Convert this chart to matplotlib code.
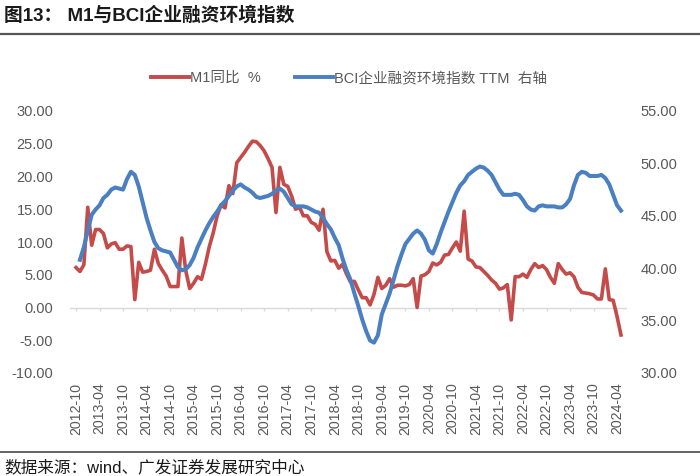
import matplotlib
matplotlib.use("Agg")
import matplotlib.pyplot as plt
from matplotlib.lines import Line2D
import numpy as np
import pandas as pd

plt.rcParams.update({"font.family": ["Liberation Sans", "Noto Sans CJK SC"],
                     "axes.unicode_minus": False})

# ── 数据 ──────────────────────────────────────────────────────
months = pd.period_range("2012-10", "2024-05", freq="M").strftime("%Y-%m").tolist()

m1_yoy = [
    6.1, 5.5, 6.5,
    15.3, 9.5, 11.9, 11.9, 11.3, 9.1, 9.7, 9.9, 8.9, 8.9, 9.4, 9.3,
    1.2, 6.9, 5.4, 5.5, 5.7, 8.9, 6.7, 5.7, 4.8, 3.2, 3.2, 3.2,
    10.6, 5.6, 2.9, 3.7, 4.7, 4.3, 6.6, 9.3, 11.4, 14.0, 15.7, 15.2,
    18.6, 17.4, 22.1, 22.9, 23.7, 24.6, 25.4, 25.3, 24.7, 23.9, 22.7, 21.4,
    14.5, 21.4, 18.8, 18.5, 17.0, 15.0, 15.3, 14.0, 14.0, 13.0, 12.7, 11.8,
    15.0, 8.5, 7.1, 7.2, 6.0, 6.6, 5.1, 3.9, 4.0, 2.7, 1.5, 1.5,
    0.4, 2.0, 4.6, 2.9, 3.4, 4.4, 3.1, 3.4, 3.4, 3.3, 3.5, 4.4,
    0.0, 4.8, 5.0, 5.5, 6.8, 6.5, 6.9, 8.0, 8.1, 9.1, 10.0, 8.6,
    14.7, 7.4, 7.1, 6.2, 6.1, 5.5, 4.9, 4.2, 3.7, 2.8, 3.0, 3.5,
    -1.9, 4.7, 4.7, 5.1, 4.6, 5.8, 6.7, 6.1, 6.4, 5.8, 4.6, 3.7,
    6.7, 5.8, 5.1, 5.3, 4.7, 3.1, 2.3, 2.2, 2.1, 1.9, 1.3, 1.3,
    5.9, 1.2, 1.1, -1.4, -4.2,
]

bci_ttm = [
    np.nan, 40.8, 42.0,
    43.6, 45.1, 45.6, 46.0, 46.7, 47.0, 47.5, 47.7, 47.6, 47.5, 48.5, 49.2,
    48.9, 47.8, 46.3, 44.8, 43.6, 42.5, 41.9, 41.7, 41.6, 41.5, 40.8, 40.1,
    39.8, 39.9, 40.3, 41.0, 42.0, 42.8, 43.6, 44.3, 44.9, 45.4, 46.0, 46.4,
    46.9, 47.4, 47.8, 48.0, 47.7, 47.5, 47.2, 46.8, 46.7, 46.8, 46.9, 47.1,
    47.4, 47.6, 47.3, 46.7, 46.1, 45.9, 45.9, 45.9, 45.8, 45.6, 45.4, 45.3,
    44.8, 44.2, 43.7, 42.9, 42.2, 40.9, 39.8, 38.9, 37.6, 36.4, 35.1, 34.0,
    33.1, 32.9, 33.6, 35.6, 36.6, 37.6, 38.9, 40.2, 41.3, 42.3, 42.8, 43.3,
    43.6, 43.3, 42.7, 41.7, 41.4, 42.3, 43.4, 44.4, 45.4, 46.3, 47.2, 47.9,
    48.3, 48.9, 49.2, 49.5, 49.7, 49.6, 49.3, 48.9, 48.2, 47.5, 47.0, 47.0,
    47.0, 47.1, 47.0, 46.5, 45.9, 45.6, 45.5, 45.9, 46.0, 45.9, 45.9, 45.9,
    45.8, 45.8, 46.1, 46.6, 47.9, 48.9, 49.2, 49.1, 48.8, 48.8, 48.8, 48.9,
    48.6, 48.0, 47.0, 46.0, 45.5,
]

left_ticks = [-10, -5, 0, 5, 10, 15, 20, 25, 30]
right_ticks = [30, 35, 40, 45, 50, 55]

# ── 颜色 ──────────────────────────────────────────────────────
C_RED = "#C44B49"
C_BLUE = "#4A7FC1"
C_TXT = "#595959"
C_LINE = "#D9D9D9"

W, H = 700, 476
fig = plt.figure(figsize=(W / 100, H / 100), dpi=100)
fig.patch.set_facecolor("white")

# 轴区域 (像素 -> 比例)
x0, x1, ytop, ybot = 70, 627, 111, 373
ax = fig.add_axes([x0 / W, 1 - ybot / H, (x1 - x0) / W, (ybot - ytop) / H])
ax2 = ax.twinx()

x = np.arange(len(months))
ax.plot(x, m1_yoy, color=C_RED, lw=2.6, solid_joinstyle="round", zorder=3)
ax2.plot(x, bci_ttm, color=C_BLUE, lw=2.9, solid_joinstyle="round", zorder=3)

ax.set_xlim(-1.53, len(months) - 1 + 1.53)
ax.set_ylim(-10, 30)
ax2.set_ylim(30, 55)

# 零线和刻度线
ax.axhline(0, color=C_LINE, lw=1, zorder=1)
tick_pos = x[::6]
ax.vlines(tick_pos, -0.6, 0, color=C_LINE, lw=1, zorder=1)

ax.set_yticks(left_ticks)
ax.set_yticklabels([f"{v:.2f}" for v in left_ticks])
ax2.set_yticks(right_ticks)
ax2.set_yticklabels([f"{v:.2f}" for v in right_ticks])
ax.set_xticks(tick_pos)
ax.set_xticklabels([months[i] for i in tick_pos], rotation=90)

for a in (ax, ax2):
    for s in a.spines.values():
        s.set_visible(False)
ax.tick_params(axis="y", length=0, pad=12, labelsize=10.5, labelcolor=C_TXT)
ax2.tick_params(axis="y", length=0, pad=10, labelsize=10.5, labelcolor=C_TXT)
ax.tick_params(axis="x", length=0, pad=7, labelsize=10.2, labelcolor=C_TXT)

# 图例
handles = [Line2D([], [], color=C_RED, lw=2.8),
           Line2D([], [], color=C_BLUE, lw=2.8)]
fig.legend(handles, ["M1同比  %", "BCI企业融资环境指数 TTM  右轴"],
           loc="center", bbox_to_anchor=(349 / W, 1 - 78 / H), ncol=2,
           frameon=False, fontsize=10.5, labelcolor=C_TXT,
           handlelength=2.6, handletextpad=0.1, columnspacing=2.3)

# 标题、分隔线与来源
fig.text(4 / W, 1 - 15 / H, "图13： M1与BCI企业融资环境指数",
         fontsize=13.5, fontweight="bold", color="#1a1a1a", va="center", ha="left")
fig.add_artist(Line2D([0, 1], [1 - 34 / H, 1 - 34 / H], color="#555555", lw=1.6))
fig.add_artist(Line2D([0, 1], [1 - 452 / H, 1 - 452 / H], color="#555555", lw=1.3))
fig.text(4 / W, 1 - 467 / H, "数据来源：wind、广发证券发展研究中心",
         fontsize=12, color="#1a1a1a", va="center", ha="left")

fig.savefig("out.png", dpi=100)
